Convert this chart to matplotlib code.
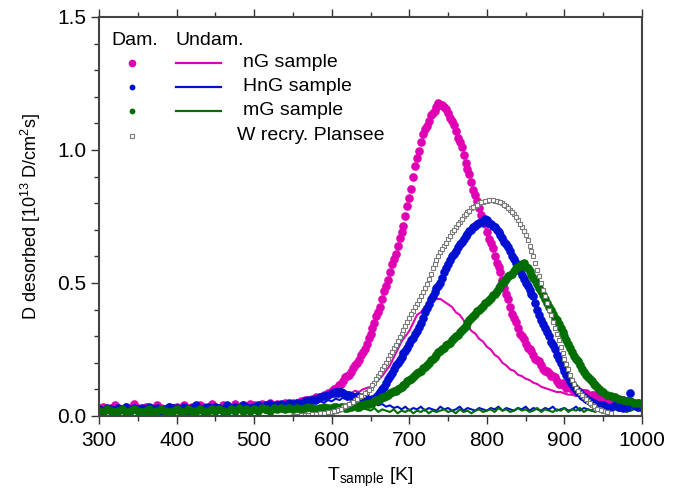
import numpy as np
import matplotlib
matplotlib.use("Agg")
import matplotlib.pyplot as plt
from matplotlib.ticker import MultipleLocator

plt.rcParams["font.family"] = ["Liberation Sans", "DejaVu Sans"]
plt.rcParams["mathtext.fontset"] = "custom"
plt.rcParams["mathtext.rm"] = "Liberation Sans"
plt.rcParams["mathtext.it"] = "Liberation Sans:italic"

# temperature grids of the TDS scans [K]
T = np.arange(300, 1001, 5)
T_mid = np.arange(602.5, 950, 5)      # extra readings in the peak region
T_plansee = np.arange(550, 961, 5)

# damaged samples (dots), D desorbed [1e13 D/cm^2 s]
dam_nG = [
    0.03, 0.035, 0.025, 0.03, 0.04, 0.03, 0.025, 0.035, 0.03, 0.045,
    0.03, 0.025, 0.035, 0.03, 0.03, 0.04, 0.03, 0.025, 0.035, 0.03,
    0.035, 0.03, 0.04, 0.03, 0.035, 0.025, 0.04, 0.035, 0.03, 0.045,
    0.035, 0.03, 0.04, 0.035, 0.03, 0.045, 0.035, 0.04, 0.035, 0.045,
    0.04, 0.035, 0.045, 0.04, 0.05, 0.04, 0.045, 0.04, 0.05, 0.045,
    0.05, 0.05, 0.055, 0.06, 0.055, 0.065, 0.07, 0.07, 0.08, 0.085,
    0.095, 0.1, 0.115, 0.13, 0.15, 0.165, 0.19, 0.21, 0.24, 0.27,
    0.31, 0.35, 0.39, 0.44, 0.49, 0.54, 0.59, 0.64, 0.69, 0.75,
    0.82, 0.9, 0.97, 1.03, 1.08, 1.11, 1.14, 1.16, 1.17, 1.16,
    1.14, 1.11, 1.07, 1.03, 0.98, 0.93, 0.88, 0.83, 0.78, 0.74,
    0.69, 0.65, 0.6, 0.56, 0.51, 0.46, 0.41, 0.37, 0.33, 0.3,
    0.27, 0.25, 0.23, 0.21, 0.19, 0.17, 0.16, 0.15, 0.13, 0.12,
    0.115, 0.11, 0.1, 0.095, 0.09, 0.085, 0.08, 0.08, 0.075, 0.07,
    0.07, 0.065, 0.065, 0.06, 0.06, 0.06, 0.055, 0.055, 0.05, 0.05,
    0.05,
]
dam_nG_mid = [
    0.1, 0.11, 0.12, 0.145, 0.155, 0.18, 0.2, 0.23, 0.25, 0.295,
    0.33, 0.375, 0.41, 0.47, 0.51, 0.57, 0.61, 0.67, 0.715, 0.79,
    0.855, 0.94, 0.995, 1.06, 1.09, 1.13, 1.145, 1.175, 1.17, 1.155,
    1.12, 1.095, 1.045, 1.01, 0.95, 0.91, 0.85, 0.81, 0.755, 0.72,
    0.665, 0.63, 0.575, 0.54, 0.48, 0.44, 0.385, 0.355, 0.31, 0.29,
    0.255, 0.245, 0.215, 0.205, 0.175, 0.17, 0.15, 0.145, 0.12, 0.125,
    0.105, 0.11, 0.095, 0.095, 0.085, 0.085, 0.075, 0.08, 0.07, 0.075,
]
dam_HnG = [
    0.025, 0.02, 0.03, 0.025, 0.02, 0.03, 0.025, 0.035, 0.02, 0.03,
    0.025, 0.03, 0.02, 0.035, 0.025, 0.03, 0.02, 0.025, 0.035, 0.03,
    0.03, 0.025, 0.035, 0.02, 0.03, 0.04, 0.025, 0.03, 0.035, 0.03,
    0.035, 0.03, 0.025, 0.04, 0.03, 0.035, 0.03, 0.04, 0.035, 0.03,
    0.035, 0.04, 0.03, 0.04, 0.045, 0.035, 0.04, 0.045, 0.04, 0.05,
    0.045, 0.05, 0.05, 0.055, 0.06, 0.06, 0.065, 0.07, 0.075, 0.08,
    0.085, 0.09, 0.09, 0.085, 0.08, 0.075, 0.07, 0.07, 0.065, 0.065,
    0.06, 0.065, 0.08, 0.1, 0.125, 0.15, 0.175, 0.2, 0.22, 0.245,
    0.27, 0.295, 0.32, 0.35, 0.39, 0.42, 0.45, 0.48, 0.5, 0.54,
    0.57, 0.6, 0.62, 0.645, 0.665, 0.685, 0.7, 0.715, 0.725, 0.73,
    0.735, 0.72, 0.71, 0.69, 0.67, 0.645, 0.62, 0.59, 0.56, 0.53,
    0.5, 0.475, 0.45, 0.4, 0.36, 0.33, 0.3, 0.265, 0.23, 0.2,
    0.17, 0.145, 0.12, 0.1, 0.085, 0.07, 0.06, 0.05, 0.045, 0.04,
    0.04, 0.035, 0.035, 0.04, 0.035, 0.03, 0.035, 0.085, 0.04, 0.035,
    0.035,
]
dam_HnG_mid = [
    0.09, 0.085, 0.09, 0.08, 0.08, 0.07, 0.075, 0.065, 0.07, 0.06,
    0.065, 0.07, 0.09, 0.11, 0.14, 0.16, 0.19, 0.21, 0.235, 0.255,
    0.285, 0.31, 0.335, 0.37, 0.405, 0.44, 0.465, 0.49, 0.52, 0.555,
    0.585, 0.61, 0.635, 0.655, 0.675, 0.695, 0.71, 0.72, 0.73, 0.74,
    0.725, 0.715, 0.7, 0.68, 0.655, 0.635, 0.6, 0.575, 0.545, 0.515,
    0.49, 0.46, 0.425, 0.38, 0.345, 0.315, 0.28, 0.25, 0.215, 0.185,
    0.155, 0.13, 0.11, 0.09, 0.075, 0.065, 0.055, 0.05, 0.04, 0.04,
]
dam_mG = [
    0.02, 0.015, 0.025, 0.02, 0.015, 0.02, 0.025, 0.015, 0.02, 0.025,
    0.02, 0.015, 0.02, 0.025, 0.015, 0.02, 0.025, 0.02, 0.015, 0.02,
    0.025, 0.02, 0.015, 0.025, 0.02, 0.02, 0.025, 0.015, 0.02, 0.025,
    0.02, 0.025, 0.02, 0.015, 0.025, 0.02, 0.03, 0.02, 0.025, 0.02,
    0.025, 0.02, 0.03, 0.025, 0.02, 0.03, 0.025, 0.03, 0.025, 0.03,
    0.025, 0.03, 0.025, 0.03, 0.035, 0.03, 0.025, 0.03, 0.035, 0.03,
    0.03, 0.035, 0.03, 0.035, 0.03, 0.035, 0.04, 0.035, 0.04, 0.045,
    0.05, 0.055, 0.06, 0.07, 0.075, 0.085, 0.095, 0.1, 0.11, 0.12,
    0.135, 0.145, 0.16, 0.17, 0.185, 0.2, 0.215, 0.23, 0.245, 0.255,
    0.27, 0.285, 0.3, 0.315, 0.33, 0.35, 0.37, 0.385, 0.4, 0.415,
    0.43, 0.445, 0.46, 0.48, 0.5, 0.515, 0.53, 0.545, 0.56, 0.57,
    0.56, 0.545, 0.52, 0.495, 0.47, 0.44, 0.41, 0.385, 0.36, 0.33,
    0.3, 0.27, 0.24, 0.215, 0.19, 0.165, 0.145, 0.13, 0.115, 0.1,
    0.09, 0.08, 0.075, 0.07, 0.065, 0.06, 0.055, 0.055, 0.05, 0.05,
    0.045,
]
dam_mG_mid = [
    0.035, 0.03, 0.035, 0.03, 0.035, 0.04, 0.035, 0.04, 0.045, 0.045,
    0.05, 0.06, 0.065, 0.07, 0.08, 0.09, 0.095, 0.105, 0.115, 0.13,
    0.14, 0.155, 0.165, 0.18, 0.19, 0.21, 0.22, 0.24, 0.25, 0.265,
    0.275, 0.295, 0.305, 0.325, 0.34, 0.36, 0.375, 0.395, 0.405, 0.425,
    0.435, 0.455, 0.47, 0.49, 0.505, 0.525, 0.535, 0.555, 0.565, 0.575,
    0.555, 0.53, 0.51, 0.48, 0.455, 0.425, 0.4, 0.37, 0.345, 0.315,
    0.285, 0.255, 0.225, 0.205, 0.175, 0.155, 0.14, 0.12, 0.11, 0.095,
]

# undamaged samples (lines)
undam_nG = [
    0.025, 0.03, 0.02, 0.035, 0.025, 0.02, 0.03, 0.025, 0.035, 0.02,
    0.03, 0.02, 0.025, 0.035, 0.02, 0.03, 0.025, 0.02, 0.035, 0.025,
    0.03, 0.02, 0.035, 0.025, 0.03, 0.02, 0.03, 0.035, 0.025, 0.03,
    0.025, 0.035, 0.03, 0.02, 0.035, 0.03, 0.025, 0.04, 0.03, 0.035,
    0.03, 0.04, 0.035, 0.03, 0.045, 0.035, 0.04, 0.035, 0.045, 0.04,
    0.045, 0.04, 0.05, 0.045, 0.055, 0.05, 0.06, 0.055, 0.065, 0.07,
    0.075, 0.07, 0.085, 0.08, 0.09, 0.085, 0.095, 0.09, 0.1, 0.105,
    0.11, 0.12, 0.135, 0.15, 0.17, 0.19, 0.22, 0.25, 0.28, 0.3,
    0.32, 0.35, 0.38, 0.39, 0.41, 0.42, 0.43, 0.44, 0.44, 0.43,
    0.42, 0.41, 0.39, 0.38, 0.36, 0.34, 0.32, 0.31, 0.29, 0.28,
    0.26, 0.25, 0.23, 0.22, 0.2, 0.19, 0.175, 0.17, 0.155, 0.15,
    0.14, 0.135, 0.125, 0.12, 0.11, 0.105, 0.1, 0.095, 0.09, 0.09,
    0.085, 0.08, 0.08, 0.075, 0.075, 0.07, 0.07, 0.065, 0.065, 0.06,
    0.065, 0.06, 0.06, 0.055, 0.06, 0.055, 0.055, 0.05, 0.055, 0.05,
    0.05,
]
undam_HnG = [
    0.02, 0.03, 0.025, 0.035, 0.02, 0.03, 0.025, 0.02, 0.035, 0.025,
    0.03, 0.02, 0.035, 0.025, 0.03, 0.02, 0.025, 0.035, 0.02, 0.03,
    0.025, 0.035, 0.02, 0.03, 0.025, 0.035, 0.02, 0.03, 0.025, 0.02,
    0.035, 0.025, 0.03, 0.02, 0.035, 0.025, 0.03, 0.035, 0.02, 0.03,
    0.025, 0.035, 0.03, 0.02, 0.035, 0.025, 0.03, 0.04, 0.025, 0.035,
    0.03, 0.04, 0.035, 0.045, 0.04, 0.05, 0.045, 0.055, 0.05, 0.06,
    0.055, 0.065, 0.06, 0.07, 0.06, 0.065, 0.055, 0.06, 0.05, 0.055,
    0.045, 0.05, 0.04, 0.045, 0.035, 0.04, 0.03, 0.035, 0.025, 0.035,
    0.02, 0.03, 0.025, 0.035, 0.02, 0.03, 0.025, 0.02, 0.035, 0.025,
    0.03, 0.02, 0.025, 0.035, 0.02, 0.03, 0.025, 0.02, 0.03, 0.025,
    0.02, 0.03, 0.025, 0.035, 0.02, 0.03, 0.025, 0.02, 0.03, 0.025,
    0.035, 0.02, 0.03, 0.025, 0.02, 0.03, 0.025, 0.035, 0.02, 0.025,
    0.03, 0.02, 0.025, 0.035, 0.02, 0.03, 0.025, 0.02, 0.03, 0.025,
    0.02, 0.03, 0.025, 0.035, 0.02, 0.03, 0.025, 0.02, 0.03, 0.025,
    0.025,
]
undam_mG = [
    0.015, 0.02, 0.01, 0.025, 0.015, 0.02, 0.01, 0.02, 0.025, 0.015,
    0.02, 0.01, 0.025, 0.015, 0.02, 0.01, 0.015, 0.025, 0.01, 0.02,
    0.015, 0.025, 0.01, 0.02, 0.015, 0.025, 0.01, 0.02, 0.015, 0.02,
    0.025, 0.015, 0.02, 0.01, 0.025, 0.015, 0.02, 0.025, 0.01, 0.02,
    0.015, 0.025, 0.02, 0.01, 0.025, 0.015, 0.02, 0.03, 0.015, 0.025,
    0.02, 0.03, 0.02, 0.035, 0.025, 0.03, 0.02, 0.035, 0.025, 0.03,
    0.025, 0.035, 0.03, 0.04, 0.03, 0.035, 0.025, 0.035, 0.03, 0.025,
    0.02, 0.03, 0.015, 0.025, 0.02, 0.015, 0.025, 0.01, 0.02, 0.015,
    0.025, 0.01, 0.02, 0.015, 0.025, 0.01, 0.02, 0.015, 0.02, 0.025,
    0.015, 0.02, 0.01, 0.025, 0.015, 0.02, 0.01, 0.02, 0.025, 0.015,
    0.02, 0.025, 0.015, 0.03, 0.02, 0.025, 0.015, 0.02, 0.03, 0.02,
    0.025, 0.015, 0.02, 0.03, 0.015, 0.025, 0.02, 0.015, 0.025, 0.02,
    0.03, 0.015, 0.025, 0.02, 0.03, 0.015, 0.025, 0.02, 0.015, 0.025,
    0.02, 0.03, 0.015, 0.025, 0.02, 0.03, 0.015, 0.02, 0.025, 0.02,
    0.02,
]

# recrystallised W reference (open squares)
w_plansee = [
    0.0, 0.0, 0.002, 0.004, 0.005, 0.007, 0.008, 0.01, 0.012, 0.014,
    0.016, 0.02, 0.025, 0.032, 0.04, 0.048, 0.06, 0.07, 0.08, 0.092,
    0.105, 0.125, 0.15, 0.175, 0.2, 0.228, 0.255, 0.282, 0.31, 0.34,
    0.37, 0.395, 0.42, 0.45, 0.48, 0.515, 0.555, 0.585, 0.615, 0.64,
    0.665, 0.69, 0.71, 0.73, 0.75, 0.765, 0.78, 0.79, 0.8, 0.805,
    0.81, 0.812, 0.81, 0.806, 0.8, 0.79, 0.775, 0.758, 0.735, 0.71,
    0.68, 0.64, 0.6, 0.55, 0.5, 0.45, 0.4, 0.355, 0.31, 0.26,
    0.215, 0.175, 0.135, 0.105, 0.085, 0.07, 0.055, 0.042, 0.03, 0.025,
    0.02, 0.015, 0.01,
]
w_plansee_mid = [
    0.018, 0.022, 0.028, 0.036, 0.044, 0.054, 0.065, 0.075, 0.086, 0.098,
    0.115, 0.138, 0.162, 0.188, 0.214, 0.242, 0.268, 0.296, 0.325, 0.355,
    0.382, 0.408, 0.435, 0.465, 0.498, 0.535, 0.57, 0.6, 0.628, 0.652,
    0.678, 0.7, 0.72, 0.74, 0.758, 0.772, 0.785, 0.795, 0.803, 0.808,
    0.811, 0.811, 0.808, 0.803, 0.795, 0.783, 0.767, 0.747, 0.723, 0.695,
    0.66, 0.62, 0.575, 0.525, 0.475, 0.425, 0.378, 0.332, 0.285, 0.238,
    0.195, 0.155, 0.12, 0.095, 0.078, 0.062, 0.048, 0.036, 0.028, 0.022,
]

c_nG = "#E000B4"
c_HnG = "#0010D0"
c_mG = "#006E00"
c_W = "#7A7A7A"

fig = plt.figure(figsize=(6.83, 4.92), dpi=100)
ax = fig.add_axes([0.145, 0.1545, 0.795, 0.811])

ax.plot(T, undam_nG, color=c_nG, lw=1.5)
ax.plot(T, undam_HnG, color=c_HnG, lw=1.5)
ax.plot(T, undam_mG, color=c_mG, lw=1.5)
dot = dict(ls="none", marker="o", ms=6.2, mec="none")
for tt, yy, cc in [(T, dam_nG, c_nG), (T_mid, dam_nG_mid, c_nG),
                   (T, dam_HnG, c_HnG), (T_mid, dam_HnG_mid, c_HnG),
                   (T, dam_mG, c_mG), (T_mid, dam_mG_mid, c_mG)]:
    ax.plot(tt, yy, color=cc, **dot)
sq = dict(ls="none", marker="s", mfc="white", mec=c_W, ms=3.4, mew=0.8)
ax.plot(T_plansee, w_plansee, **sq)
ax.plot(T_mid, w_plansee_mid, **sq)

ax.set_xlim(300, 1000)
ax.set_ylim(0, 1.5)
ax.xaxis.set_major_locator(MultipleLocator(100))
ax.xaxis.set_minor_locator(MultipleLocator(50))
ax.yaxis.set_major_locator(MultipleLocator(0.5))
ax.yaxis.set_minor_locator(MultipleLocator(0.1))
ax.yaxis.set_major_formatter(plt.FormatStrFormatter("%.1f"))
ax.tick_params(which="both", direction="out", top=True, right=False,
               width=1.0, color="#333333")
ax.tick_params(which="major", length=5.5, labelsize=15)
ax.tick_params(axis="x", which="major", pad=5)
ax.tick_params(which="minor", length=3.5)
for s in ax.spines.values():
    s.set_linewidth(1.5)
    s.set_color("#444444")

ax.set_xlabel("T$_{\\mathregular{sample}}$ [K]", fontsize=14, labelpad=12)
ax.set_ylabel("D desorbed [10$^{\\mathregular{13}}$ D/cm$^{\\mathregular{2}}$s]",
              fontsize=13, labelpad=10)

# hand made legend: Dam. / Undam. columns
tr = ax.transAxes
ax.text(0.023, 0.942, "Dam.", transform=tr, fontsize=14, va="center")
ax.text(0.140, 0.942, "Undam.", transform=tr, fontsize=14, va="center")
rows = [0.885, 0.825, 0.765]
names = ["nG sample", "HnG sample", "mG sample"]
cols = [c_nG, c_HnG, c_mG]
sizes = [5.5, 4.2, 4.2]
for yy, nm, cc, ms in zip(rows, names, cols, sizes):
    ax.plot([0.060], [yy], "o", color=cc, ms=ms, mec="none", transform=tr)
    ax.plot([0.142, 0.224], [yy, yy], color=cc, lw=1.6, transform=tr)
    ax.text(0.266, yy, nm, transform=tr, fontsize=14, va="center")
ax.plot([0.060], [0.702], "s", mfc="white", mec=c_W, ms=3.4, mew=0.8, transform=tr)
ax.text(0.255, 0.702, "W recry. Plansee", transform=tr, fontsize=14, va="center")

fig.savefig("out.png", dpi=100)
